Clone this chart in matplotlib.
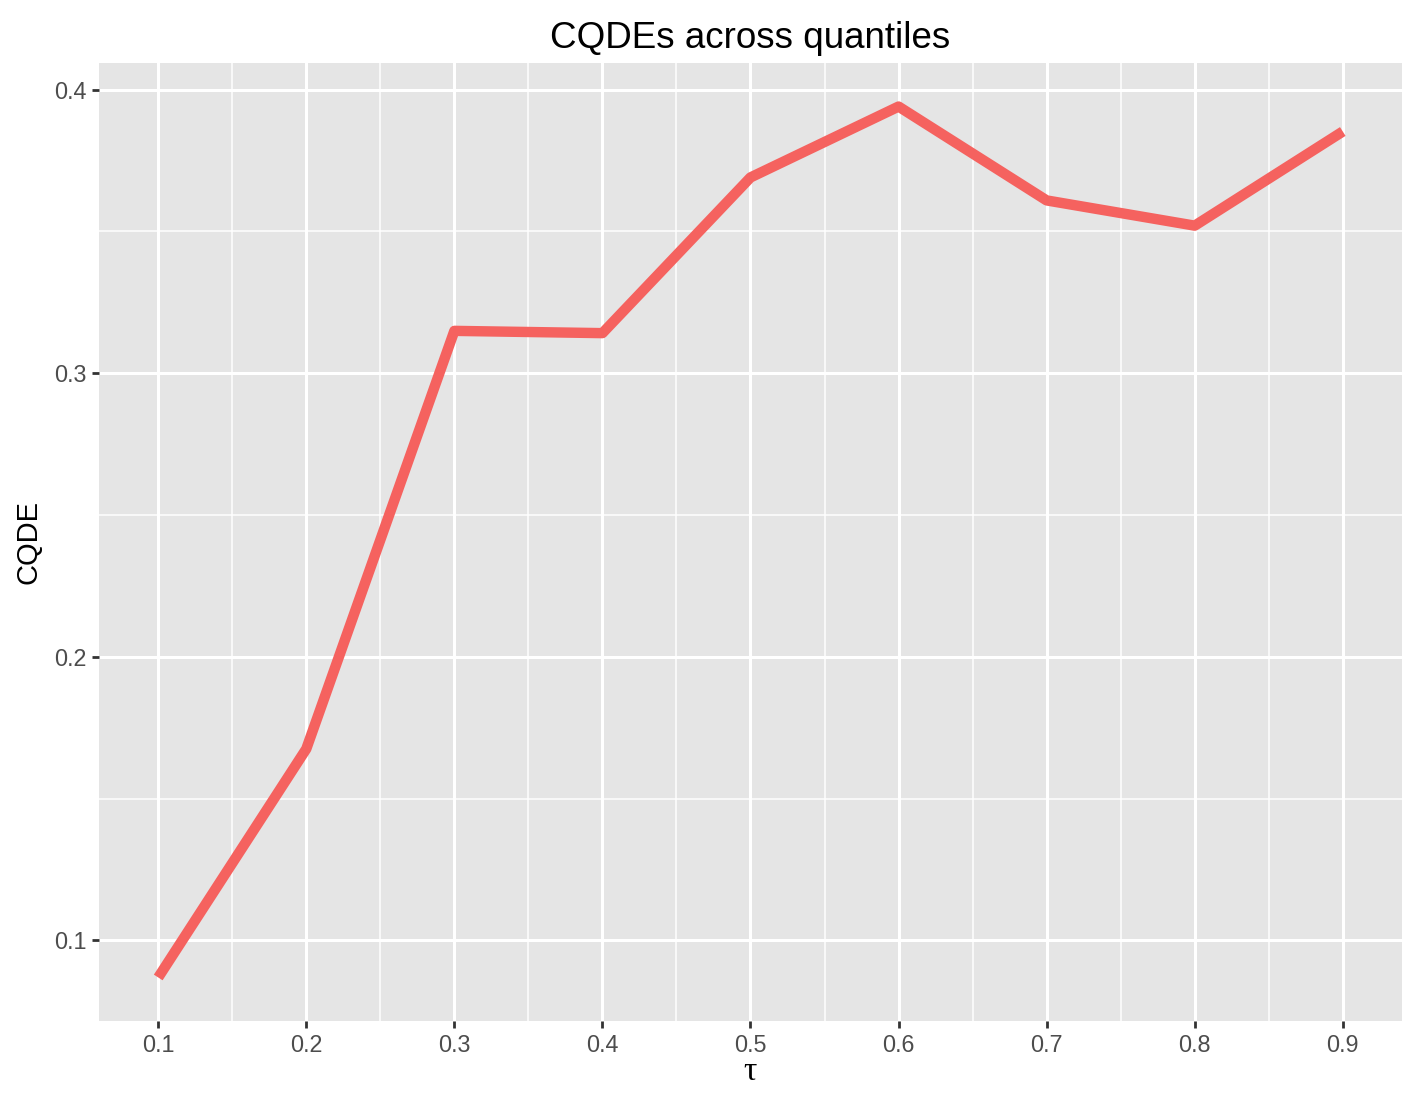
import numpy as np
import matplotlib
matplotlib.use("Agg")
from matplotlib import pyplot as plt

# data ###################################################################
tau = [0.1, 0.2, 0.3, 0.4, 0.5, 0.6, 0.7, 0.8, 0.9]
cqde = [0.0869, 0.1675, 0.3149, 0.3141, 0.3690, 0.3940, 0.3609, 0.3520, 0.3852]
x_ticks = [0.1, 0.2, 0.3, 0.4, 0.5, 0.6, 0.7, 0.8, 0.9]
y_ticks = [0.1, 0.2, 0.3, 0.4]

plt.rcParams['font.family'] = ['Liberation Sans', 'DejaVu Sans']

fig = plt.figure(figsize=(14.17, 11.02), dpi=100)
ax = fig.add_axes([99/1417, 1 - 1021/1102, (1402-99)/1417, (1021-63)/1102])
ax.set_facecolor('#E5E5E5')

### ggplot-like limits (5% expansion)
xr = max(tau) - min(tau)
yr = max(cqde) - min(cqde)
ax.set_xlim(min(tau) - 0.05*xr, max(tau) + 0.05*xr)
ax.set_ylim(min(cqde) - 0.05*yr, max(cqde) + 0.05*yr)

### grid
ax.set_xticks(x_ticks)
ax.set_yticks(y_ticks)
ax.set_xticks(np.array(x_ticks[:-1]) + 0.05, minor=True)
ax.set_yticks(np.array(y_ticks[:-1]) + 0.05, minor=True)
ax.grid(which='major', color='white', linewidth=2.2)
ax.grid(which='minor', color='white', linewidth=1.1)
ax.set_axisbelow(True)
for s in ax.spines.values():
    s.set_visible(False)

ax.plot(tau, cqde, color='#F5625F', linewidth=7.5,
        solid_capstyle='butt', solid_joinstyle='round')

ax.tick_params(which='major', length=5, width=2, color='#333333',
               labelsize=16.8, labelcolor='#4D4D4D', pad=4)
ax.tick_params(which='minor', length=0)
ax.set_xticklabels([f'{v:.1f}' for v in x_ticks])
ax.set_yticklabels([f'{v:.1f}' for v in y_ticks])

ax.set_title('CQDEs across quantiles', fontsize=26.5, pad=11)
ax.set_xlabel('τ', fontsize=24, labelpad=0, family=['Liberation Serif', 'DejaVu Serif'])
ax.set_ylabel('CQDE', fontsize=21, labelpad=8)

fig.savefig('out.png', dpi=100)
